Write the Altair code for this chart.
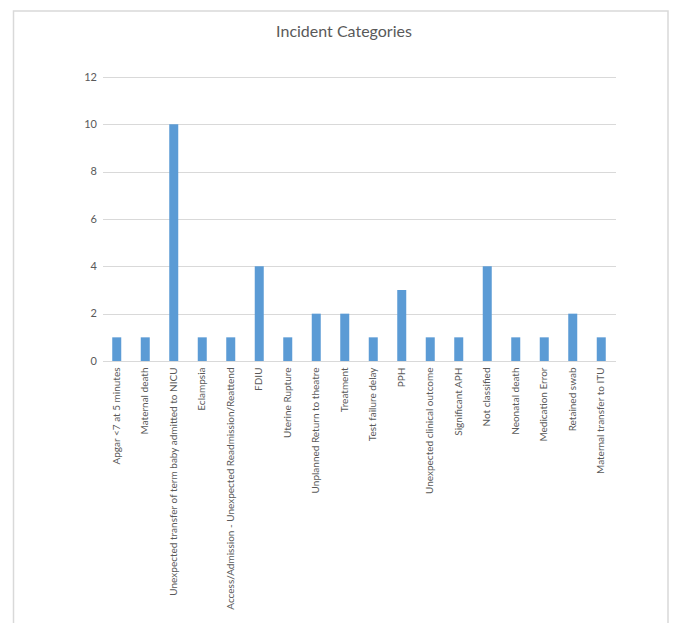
import altair as alt
import pandas as pd

categories = [
    "Apgar <7 at 5 minutes",
    "Maternal death",
    "Unexpected transfer of term baby admitted to NICU",
    "Eclampsia",
    "Access/Admission - Unexpected Readmission/Reattend",
    "FDIU",
    "Uterine Rupture",
    "Unplanned Return to theatre",
    "Treatment",
    "Test failure delay",
    "PPH",
    "Unexpected clinical outcome",
    "Significant APH",
    "Not classified",
    "Neonatal death",
    "Medication Error",
    "Retained swab",
    "Maternal transfer to ITU",
]
counts = [1, 1, 10, 1, 1, 4, 1, 2, 2, 1, 3, 1, 1, 4, 1, 1, 2, 1]
y_ticks = [0, 2, 4, 6, 8, 10, 12]

df = pd.DataFrame({"category": categories, "count": counts})

FONT = "Lato"
GREY = "#595959"
LINE = "#D9D9D9"

bars = alt.Chart(df).mark_bar(color="#5B9BD5").encode(
    x=alt.X(
        "category:N",
        sort=categories,
        title=None,
        scale=alt.Scale(paddingInner=0.684, paddingOuter=0.342),
        axis=alt.Axis(
            labelAngle=-90,
            labelFont=FONT,
            labelFontSize=10,
            labelColor=GREY,
            labelPadding=6,
            ticks=False,
            domainColor=LINE,
            labelLimit=400,
            labelOverlap=False,
        ),
    ),
    y=alt.Y(
        "count:Q",
        title=None,
        scale=alt.Scale(domain=[0, 12], nice=False),
        axis=alt.Axis(
            values=y_ticks,
            labelFont=FONT,
            labelFontSize=11,
            labelColor=GREY,
            labelPadding=6,
            ticks=False,
            domain=False,
            gridColor=LINE,
        ),
    ),
)

border = alt.Chart(pd.DataFrame({"a": [0]})).mark_rect(
    fill=None, stroke=LINE, strokeWidth=1.5
).encode(
    x=alt.value(-89),
    x2=alt.value(565.5),
    y=alt.value(-66),
    y2=alt.value(600),
)

chart = alt.layer(border, bars).properties(
    width=513,
    height=284,
    title=alt.Title(
        "Incident Categories",
        font=FONT,
        fontSize=16,
        fontWeight="normal",
        color=GREY,
        anchor="middle",
        baseline="alphabetic",
        dx=-15,
        offset=-43,
    ),
    autosize=alt.AutoSizeParams(type="none"),
    padding={"left": 94.5, "top": 69, "right": 53.5, "bottom": 262},
).configure_view(stroke=None)

chart.save("out.html", embed_options={"renderer": "svg", "actions": False})
